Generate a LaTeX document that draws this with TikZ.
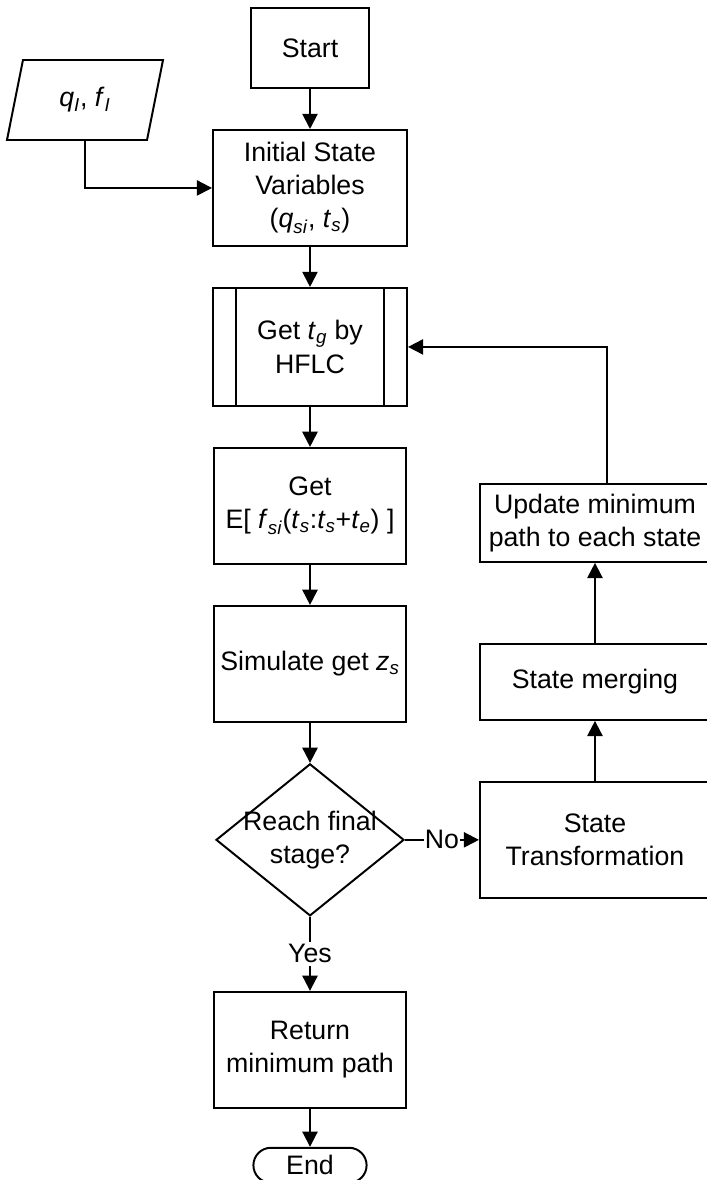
\documentclass[tikz,border=0pt]{standalone}
\usepackage{fontspec}
\setmainfont{Liberation Sans}
\usetikzlibrary{arrows.meta, positioning, shapes.geometric, shapes.misc}

\newcommand{\vsub}[2]{\textit{#1}\textsubscript{\textit{#2}}}

\begin{document}
\begin{tikzpicture}[
    node distance=1cm,
    font=\fontsize{19}{23.5}\selectfont,
    line width=1.4pt,
    block/.style={rectangle, draw, minimum width=4.8cm, minimum height=2.9cm, align=center, inner sep=2pt},
    sideblock/.style={block, minimum width=5.75cm},
    subproc/.style={block, path picture={
        \draw ([xshift=0.575cm]path picture bounding box.north west) -- ([xshift=0.575cm]path picture bounding box.south west);
        \draw ([xshift=-0.575cm]path picture bounding box.north east) -- ([xshift=-0.575cm]path picture bounding box.south east);}},
    decision/.style={diamond, draw, minimum width=4.7cm, minimum height=3.8cm, inner sep=0pt},
    data/.style={trapezium, trapezium left angle=65, trapezium right angle=115, trapezium stretches body, draw, minimum width=3.9cm, minimum height=2cm},
    terminal/.style={rounded rectangle, draw, minimum width=2.9cm, minimum height=0.875cm, inner sep=1pt},
    arrow/.style={-{Triangle[length=3.8mm, width=3.8mm]}},
]
    \useasboundingbox (0,0) rectangle (17.675,-29.5);

    % main column
    \node[block, minimum width=2.95cm, minimum height=2cm] (start) at (7.75,-1.2) {Start};
    \node[block, below=of start, minimum width=4.85cm] (init) {Initial State\\Variables\\(\vsub{q}{si}, \vsub{t}{s})};
    \node[subproc, below=of init, minimum width=4.85cm, minimum height=2.95cm] (hflc) {Get \vsub{t}{g} by\\HFLC};
    \node[block, below=of hflc] (expect) {Get\\E[ \vsub{f}{si}(\vsub{t}{s}:\vsub{t}{s}+\vsub{t}{e}) ]};
    \node[block, below=of expect] (sim) {Simulate get \vsub{z}{s}};
    \node[decision, below=of sim, label={[align=center]center:Reach final\\stage?}] (dec) {};
    \node[block, below=1.85cm of dec] (ret) {Return\\minimum path};
    \node[terminal, below=0.95cm of ret] (end) {End};

    % input data
    \node[data] (input) at (2.125,-2.5) {\vsub{q}{I}, \vsub{f}{I}};

    % right column
    \node[sideblock, right=1.85cm of dec] (trans) {State\\Transformation};
    \node[sideblock, above=1.5cm of trans, minimum height=1.9cm] (merge) {State merging};
    \node[sideblock, above=2cm of merge, minimum height=1.95cm] (upd) {Update minimum\\path to each state};

    \draw[arrow] (start) -- (init);
    \draw[arrow] (input.south) |- (init.west);
    \draw[arrow] (init) -- (hflc);
    \draw[arrow] (hflc) -- (expect);
    \draw[arrow] (expect) -- (sim);
    \draw[arrow] (sim) -- (dec);
    \draw[arrow] (dec) -- (ret) node[midway, fill=white, inner sep=2pt] {Yes};
    \draw[arrow] (ret) -- (end);
    \draw[arrow] (dec) -- (trans) node[midway, fill=white, inner sep=1pt] {No};
    \draw[arrow] (trans) -- (merge);
    \draw[arrow] (merge) -- (upd);
    \draw[arrow] ([xshift=0.3cm]upd.north) |- (hflc.east);
\end{tikzpicture}
\end{document}
